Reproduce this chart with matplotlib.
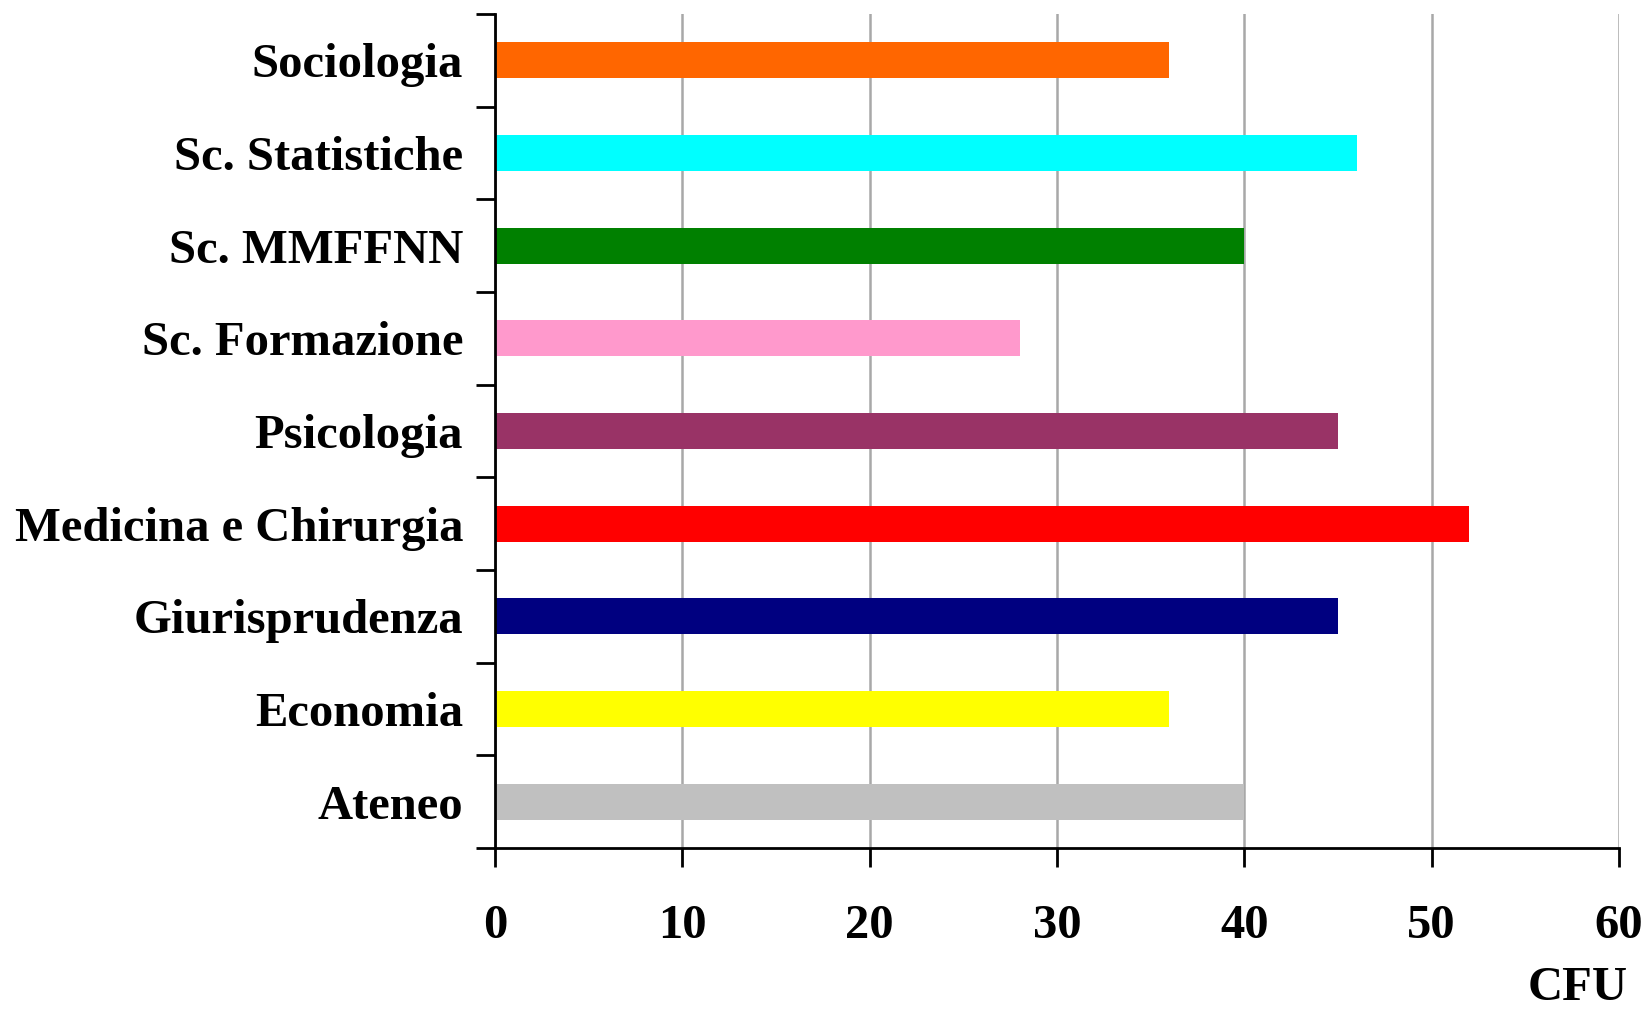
import numpy as np
import matplotlib
matplotlib.use("Agg")
import matplotlib.pyplot as plt

plt.rcParams['font.family'] = ['Liberation Serif', 'DejaVu Serif']
plt.rcParams['font.weight'] = 'bold'

# dati (dal basso verso l'alto)
facolta = ['Ateneo', 'Economia', 'Giurisprudenza', 'Medicina e Chirurgia',
           'Psicologia', 'Sc. Formazione', 'Sc. MMFFNN', 'Sc. Statistiche',
           'Sociologia']
cfu = [40, 36, 45, 52, 45, 28, 40, 46, 36]
colori = ['#C0C0C0', '#FFFF00', '#000080', '#FF0000', '#993366',
          '#FF99CC', '#008000', '#00FFFF', '#FF6600']
x_ticks = [0, 10, 20, 30, 40, 50, 60]

fig = plt.figure(figsize=(16.48, 10.10), dpi=100)
ax = fig.add_axes([0.3004, 0.1604, 0.682, 0.8257])

y = np.arange(len(facolta))
ax.barh(y, cfu, height=0.39, color=colori, zorder=3)

ax.set_xlim(0, 60)
ax.set_ylim(-0.5, len(facolta) - 0.5)
ax.set_xticks(x_ticks)
ax.set_xticklabels([str(t) for t in x_ticks], fontsize=35, fontweight='bold')
ax.tick_params(axis='x', direction='out', length=14, width=2, pad=26)

ax.set_yticks(y)
ax.set_yticklabels(facolta, fontsize=35, fontweight='bold')
ax.tick_params(axis='y', which='major', length=0, pad=23)
ax.set_yticks(np.arange(-0.5, len(facolta), 1.0), minor=True)
ax.tick_params(axis='y', which='minor', direction='out', length=14, width=2)

ax.grid(axis='x', color='#A8A8A8', linewidth=1.8, zorder=0)
for s in ['top', 'right']:
    ax.spines[s].set_visible(False)
for s in ['left', 'bottom']:
    ax.spines[s].set_linewidth(2)
    ax.spines[s].set_zorder(4)

fig.text(0.988, 0.022, 'CFU', ha='right', va='center', fontsize=35,
         fontweight='bold')

fig.savefig('out.png', dpi=100)
